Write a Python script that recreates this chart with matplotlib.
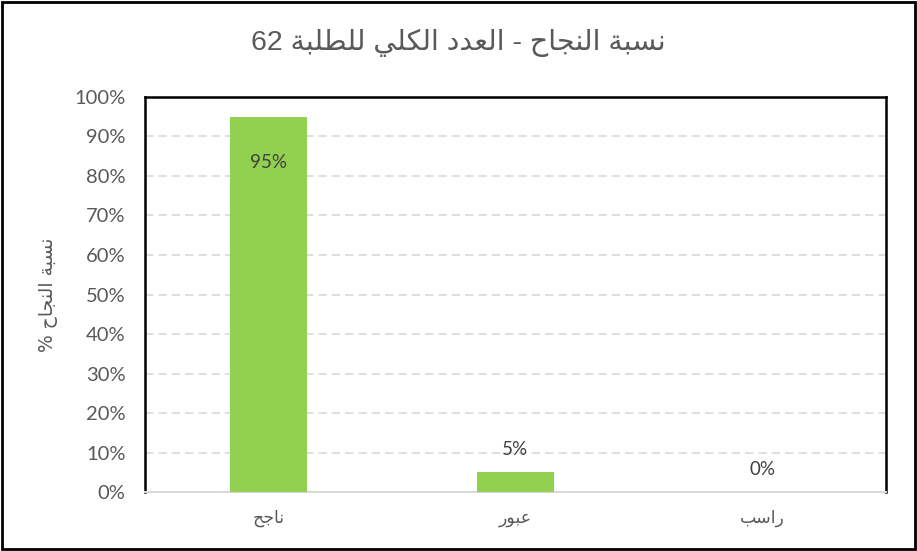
import matplotlib
matplotlib.use('Agg')
import matplotlib.pyplot as plt
from matplotlib.patches import Rectangle
from matplotlib.ticker import PercentFormatter

# البيانات
title = 'نسبة النجاح - العدد الكلي للطلبة 62'
y_label = 'نسبة النجاح %'
categories = ['ناجح', 'عبور', 'راسب']
values = [95, 5, 0]

# أشكال الحروف العربية: منفصل، نهائي، ابتدائي، وسطي
FORMS = {
    'ا': (0xFE8D, 0xFE8E, None, None),
    'ب': (0xFE8F, 0xFE90, 0xFE91, 0xFE92),
    'ة': (0xFE93, 0xFE94, None, None),
    'ج': (0xFE9D, 0xFE9E, 0xFE9F, 0xFEA0),
    'ح': (0xFEA1, 0xFEA2, 0xFEA3, 0xFEA4),
    'د': (0xFEA9, 0xFEAA, None, None),
    'ر': (0xFEAD, 0xFEAE, None, None),
    'س': (0xFEB1, 0xFEB2, 0xFEB3, 0xFEB4),
    'ط': (0xFEC1, 0xFEC2, 0xFEC3, 0xFEC4),
    'ع': (0xFEC9, 0xFECA, 0xFECB, 0xFECC),
    'ك': (0xFED9, 0xFEDA, 0xFEDB, 0xFEDC),
    'ل': (0xFEDD, 0xFEDE, 0xFEDF, 0xFEE0),
    'ن': (0xFEE5, 0xFEE6, 0xFEE7, 0xFEE8),
    'و': (0xFEED, 0xFEEE, None, None),
    'ي': (0xFEF1, 0xFEF2, 0xFEF3, 0xFEF4),
}


def ar(text):
    # تشكيل بسيط للحروف ثم ترتيب مرئي من اليمين لليسار
    out = []
    for i, ch in enumerate(text):
        if ch not in FORMS:
            out.append(ch)
            continue
        prev = text[i - 1] if i > 0 else ''
        nxt = text[i + 1] if i + 1 < len(text) else ''
        join_prev = prev in FORMS and FORMS[prev][2] is not None
        join_next = nxt in FORMS and FORMS[ch][2] is not None
        iso, fin, ini, med = FORMS[ch]
        if join_prev and join_next:
            code = med
        elif join_prev:
            code = fin
        elif join_next:
            code = ini
        else:
            code = iso
        out.append(chr(code))
    rev = ''.join(out)[::-1]
    # إعادة الأرقام لترتيبها الصحيح
    res, run = '', ''
    for ch in rev:
        if ch.isdigit():
            run += ch
        else:
            res += run[::-1] + ch
            run = ''
    return res + run[::-1]


text_col = '#595959'
fig = plt.figure(figsize=(9.17, 5.51), dpi=100)
ax = fig.add_axes([0.158, 0.107, 0.808, 0.717])

x = range(len(categories))
bars = ax.bar(x, values, width=0.31, color='#92D050', zorder=3)

ax.set_xlim(-0.5, 2.5)
ax.set_ylim(0, 100)
ax.set_yticks(range(0, 101, 10))
ax.yaxis.set_major_formatter(PercentFormatter(decimals=0))
ax.set_xticks(list(x))
ax.set_xticklabels([ar(c) for c in categories], family=['DejaVu Sans'], fontsize=12.5, color=text_col)
for lab in ax.get_yticklabels():
    lab.set_family(['Lato', 'DejaVu Sans'])
    lab.set_fontsize(14.5)
    lab.set_color(text_col)
ax.tick_params(axis='x', length=0, pad=12)
ax.tick_params(axis='y', length=0, pad=14)

ax.grid(axis='y', color='#D9D9D9', linestyle=(0, (5, 3)), linewidth=1.2, zorder=0)
for s in ['left', 'top', 'right']:
    ax.spines[s].set_color('black')
    ax.spines[s].set_linewidth(1.8)
ax.spines['bottom'].set_color('#D9D9D9')
ax.spines['bottom'].set_linewidth(1.5)

ax.set_ylabel(ar(y_label), family=['DejaVu Sans'], fontsize=13.5, color=text_col, labelpad=12)

# تسميات الأعمدة
for b, v in zip(bars, values):
    if v > 50:
        ax.annotate(f'{v}%', (b.get_x() + b.get_width() / 2, v), xytext=(0, -46),
                    textcoords='offset pixels', ha='center', va='center',
                    family=['Lato', 'DejaVu Sans'], fontsize=13.5, color='#404040')
    else:
        ax.annotate(f'{v}%', (b.get_x() + b.get_width() / 2, v), xytext=(0, 23),
                    textcoords='offset pixels', ha='center', va='center',
                    family=['Lato', 'DejaVu Sans'], fontsize=13.5, color='#404040')

fig.text(0.5, 0.922, ar(title), ha='center', va='center', fontsize=20.5,
         family=['Liberation Sans', 'DejaVu Sans'], color=text_col)

# إطار الشكل
fig.patches.append(Rectangle((0.002, 0.003), 0.996, 0.994, transform=fig.transFigure,
                             fill=False, edgecolor='black', linewidth=2))

fig.savefig('out.png', dpi=100)
